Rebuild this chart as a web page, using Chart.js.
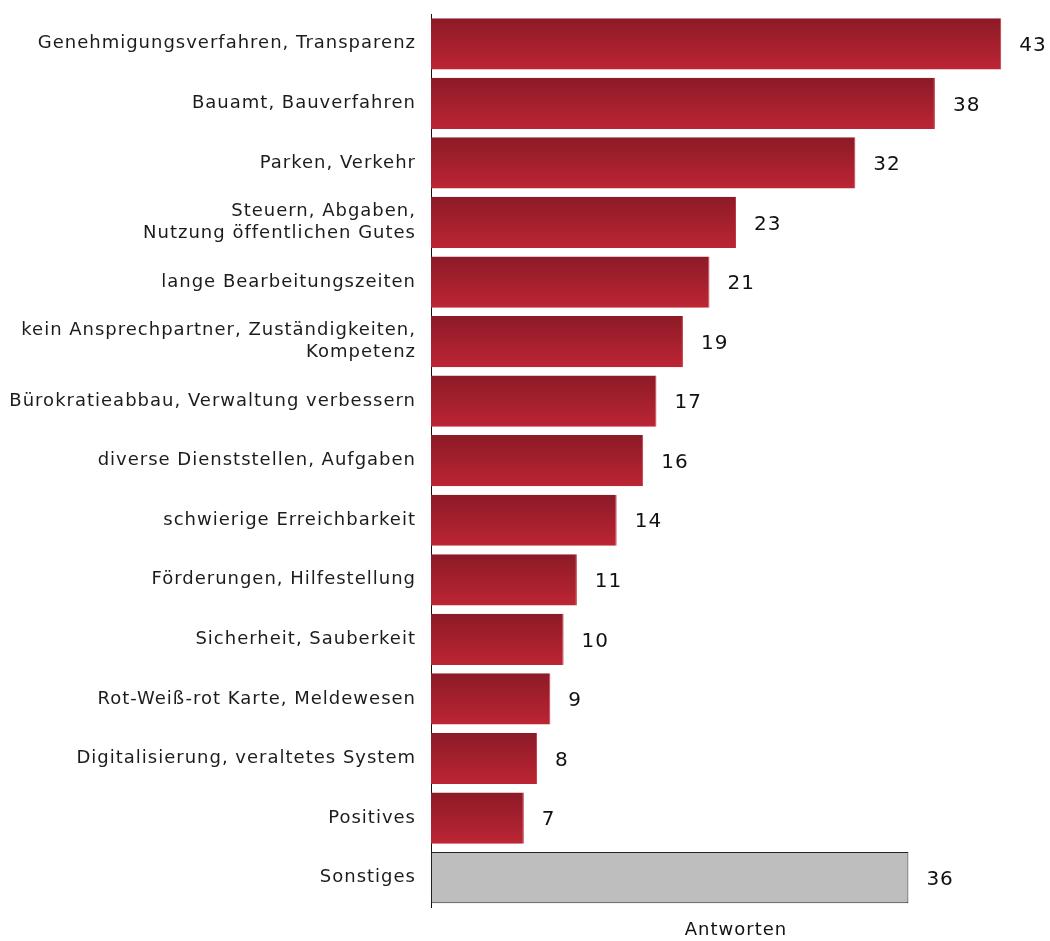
<!DOCTYPE html>
<html>
<head>
<meta charset="utf-8">
<script src="https://cdn.jsdelivr.net/npm/chart.js@4"></script>
<style>
  html, body { margin: 0; padding: 0; background: #fff; }
  #wrap { width: 1050px; height: 941px; }
</style>
</head>
<body>
<div id="wrap"><canvas id="antwortChart"></canvas></div>
<script>
// Kategorien und Werte
const kategorien = [
  "Genehmigungsverfahren, Transparenz",
  "Bauamt, Bauverfahren",
  "Parken, Verkehr",
  ["Steuern, Abgaben,", "Nutzung öffentlichen Gutes"],
  "lange Bearbeitungszeiten",
  ["kein Ansprechpartner, Zuständigkeiten,", "Kompetenz"],
  "Bürokratieabbau, Verwaltung verbessern",
  "diverse Dienststellen, Aufgaben",
  "schwierige Erreichbarkeit",
  "Förderungen, Hilfestellung",
  "Sicherheit, Sauberkeit",
  "Rot-Weiß-rot Karte, Meldewesen",
  "Digitalisierung, veraltetes System",
  "Positives",
  "Sonstiges"
];
const antworten = [43, 38, 32, 23, 21, 19, 17, 16, 14, 11, 10, 9, 8, 7, 36];
const achsenTitel = "Antworten";

const schrift = "'DejaVu Sans', sans-serif";

// Verlauf pro Balken (dunkel oben, heller unten)
function balkenFarbe(c) {
  if (kategorien[c.dataIndex] === "Sonstiges") return "#bebebe";
  const chart = c.chart;
  const y = chart.scales.y;
  if (!chart.chartArea || !y) return "#a51f2d";
  const mitte = y.getPixelForValue(c.dataIndex);
  const h = 26;
  const g = chart.ctx.createLinearGradient(0, mitte - h, 0, mitte + h);
  g.addColorStop(0, "#8c1a27");
  g.addColorStop(1, "#bd2534");
  return g;
}

// etwas breitere Laufweite für alle Texte
const laufweite = {
  id: "laufweite",
  beforeUpdate(chart) { chart.ctx.letterSpacing = "1px"; },
  beforeDraw(chart) { chart.ctx.letterSpacing = "1px"; }
};

// Werte neben den Balken
const wertePlugin = {
  id: "werte",
  afterDatasetsDraw(chart) {
    const ctx = chart.ctx;
    const meta = chart.getDatasetMeta(0);
    ctx.save();
    ctx.font = "20px " + schrift;
    ctx.fillStyle = "#111";
    ctx.textAlign = "left";
    ctx.textBaseline = "middle";
    meta.data.forEach((bar, i) => {
      ctx.fillText(antworten[i], bar.x + 18, bar.y + 2);
    });
    ctx.restore();
  }
};

const ctx = document.getElementById("antwortChart").getContext("2d");
const antwortChart = new Chart(ctx, {
  type: "bar",
  data: {
    labels: kategorien,
    datasets: [{
      data: antworten,
      backgroundColor: balkenFarbe,
      borderColor: c => kategorien[c.dataIndex] === "Sonstiges" ? "#222" : "#c23542",
      borderWidth: c => kategorien[c.dataIndex] === "Sonstiges" ? 1 : { right: 1 },
      borderSkipped: false,
      categoryPercentage: 1,
      barPercentage: 0.86
    }]
  },
  options: {
    indexAxis: "y",
    responsive: true,
    maintainAspectRatio: false,
    animation: false,
    layout: { padding: { top: 14, right: 9, left: 0, bottom: 0 } },
    plugins: {
      legend: { display: false },
      tooltip: { enabled: false }
    },
    scales: {
      x: {
        min: 0,
        max: 46,
        grid: { display: false, drawTicks: false },
        border: { display: false },
        ticks: { display: false },
        title: {
          display: true,
          text: achsenTitel,
          color: "#111",
          font: { family: schrift, size: 18 },
          padding: { top: 12, bottom: 0 }
        }
      },
      y: {
        afterFit: s => { s.width = 431; s.paddingTop = 0; s.paddingBottom = 0; },
        grid: { display: false, drawTicks: false },
        border: { display: true, color: "#111", width: 1 },
        ticks: {
          color: "#1c1c1c",
          padding: 15,
          font: { family: schrift, size: 18 },
          autoSkip: false
        }
      }
    }
  },
  plugins: [laufweite, wertePlugin]
});
</script>
</body>
</html>
